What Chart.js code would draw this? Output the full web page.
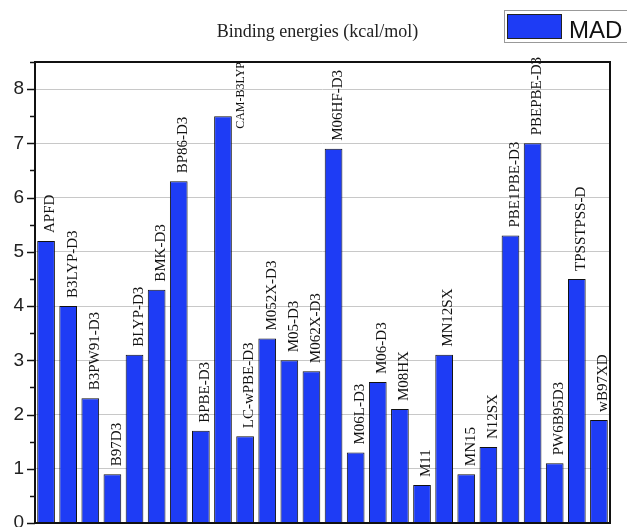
<!DOCTYPE html>
<html>
<head>
<meta charset="utf-8">
<script src="https://cdn.jsdelivr.net/npm/chart.js@4.4.1/dist/chart.umd.min.js"></script>
<style>
  body { margin: 0; background: #fff; }
  #wrap { position: relative; width: 627px; height: 527px; overflow: hidden; }
  #legend {
    position: absolute; left: 504px; top: 10px; width: 140px; height: 33px;
    border: 1px solid #999; background: #fff; box-sizing: border-box;
  }
  #legend .sw {
    position: absolute; left: 2px; top: 3px; width: 55px; height: 25px;
    background: #1e3cf5; border: 1px solid #222; box-sizing: border-box;
  }
  #legend .lb {
    position: absolute; left: 64px; top: 5px; line-height: 24px;
    font: 24px "Liberation Sans", Arial, sans-serif; color: #111;
  }
  #title {
    position: absolute; left: 0; width: 635px; top: 21px; text-align: center; line-height: 20px;
    font: 18px "Liberation Serif", "DejaVu Serif", serif; color: #222;
  }
</style>
</head>
<body>
<div id="wrap">
  <canvas id="bindingChart" width="627" height="527"></canvas>
  <div id="title">Binding energies (kcal/mol)</div>
  <div id="legend"><div class="sw"></div><div class="lb">MAD</div></div>
</div>
<script>
const functionals = ['APFD', 'B3LYP-D3', 'B3PW91-D3', 'B97D3', 'BLYP-D3', 'BMK-D3', 'BP86-D3', 'BPBE-D3',
  'CAM-B3LYP', 'LC-wPBE-D3', 'M052X-D3', 'M05-D3', 'M062X-D3', 'M06HF-D3', 'M06L-D3', 'M06-D3',
  'M08HX', 'M11', 'MN12SX', 'MN15', 'N12SX', 'PBE1PBE-D3', 'PBEPBE-D3', 'PW6B95D3', 'TPSSTPSS-D', 'wB97XD'];
const madValues = [5.2, 4.0, 2.3, 0.9, 3.1, 4.3, 6.3, 1.7,
  7.5, 1.6, 3.4, 3.0, 2.8, 6.9, 1.3, 2.6,
  2.1, 0.7, 3.1, 0.9, 1.4, 5.3, 7.0, 1.1, 4.5, 1.9];
const yTicks = [0, 1, 2, 3, 4, 5, 6, 7, 8];

const labelFont = '"Liberation Serif", "DejaVu Serif", serif';

// labels above bars, frame and tick marks
const decorPlugin = {
  id: 'decor',
  afterDatasetsDraw(chart) {
    const ctx = chart.ctx;
    const meta = chart.getDatasetMeta(0);
    const top = chart.chartArea.top;
    ctx.save();
    ctx.fillStyle = '#111';
    ctx.textAlign = 'left';
    ctx.textBaseline = 'alphabetic';
    meta.data.forEach((bar, i) => {
      const right = bar.x + bar.width / 2;
      ctx.font = '15px ' + labelFont;
      let w = ctx.measureText(functionals[i]).width;
      let tx = right - 0.5;
      let ty = bar.y - 8;
      if (ty - w < top - 6) {
        // too tall: smaller and beside the bar, like the original
        ctx.font = '12px ' + labelFont;
        w = ctx.measureText(functionals[i]).width;
        tx = right + 12;
        ty = top + w;
      }
      ctx.save();
      ctx.translate(tx, ty);
      ctx.rotate(-Math.PI / 2);
      ctx.fillText(functionals[i], 0, 0);
      ctx.restore();
    });
    ctx.restore();
  },
  afterDraw(chart) {
    const ctx = chart.ctx;
    const a = chart.chartArea;
    const y = chart.scales.y;
    ctx.save();
    ctx.strokeStyle = '#111';
    ctx.lineWidth = 2;
    ctx.strokeRect(a.left, a.top, a.right - a.left, a.bottom - a.top);
    ctx.lineWidth = 1.5;
    for (let v = 0; v <= 8.5; v += 0.5) {
      const py = Math.round(y.getPixelForValue(v)) + 0.5;
      const len = Number.isInteger(v) ? 8 : 5;
      ctx.beginPath();
      ctx.moveTo(a.left - len, py);
      ctx.lineTo(a.left, py);
      ctx.stroke();
    }
    ctx.restore();
  }
};

new Chart(document.getElementById('bindingChart').getContext('2d'), {
  type: 'bar',
  data: {
    labels: functionals,
    datasets: [{
      label: 'MAD',
      data: madValues,
      backgroundColor: '#1e3cf5',
      borderColor: '#111',
      borderWidth: 1,
      barPercentage: 0.8,
      categoryPercentage: 1.0
    }]
  },
  options: {
    responsive: false,
    animation: false,
    layout: { padding: { top: 62, right: 17, bottom: 4, left: 0 } },
    plugins: {
      legend: { display: false },
      title: { display: false },
      tooltip: { enabled: false }
    },
    scales: {
      x: { display: false },
      y: {
        min: 0,
        max: 8.5,
        afterFit(scale) {
          scale.width = 35;
          scale.paddingTop = 0;
          scale.paddingBottom = 0;
        },
        afterBuildTicks(scale) { scale.ticks = yTicks.map(v => ({ value: v })); },
        ticks: {
          color: '#222',
          padding: 11,
          font: { family: '"Liberation Sans", Arial, sans-serif', size: 19 }
        },
        grid: { color: '#c8c8c8', drawTicks: false, lineWidth: 1 },
        border: { display: false }
      }
    }
  },
  plugins: [decorPlugin]
});
</script>
</body>
</html>
